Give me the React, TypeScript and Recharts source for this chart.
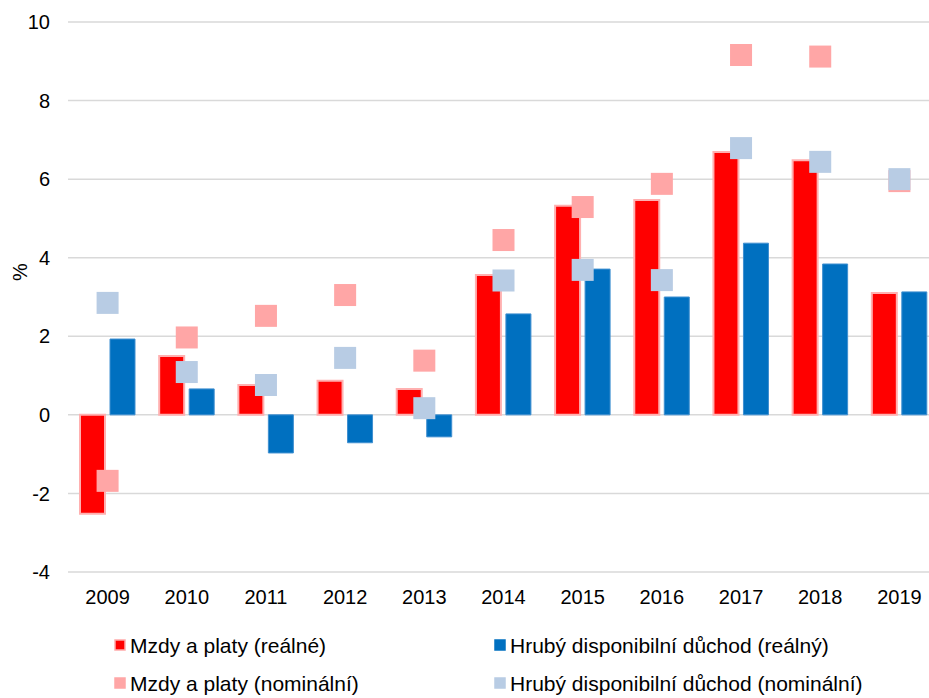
import React from 'react';
import { ComposedChart, Bar, Scatter, XAxis, YAxis, CartesianGrid } from 'recharts';

const years = ['2009', '2010', '2011', '2012', '2013', '2014', '2015', '2016', '2017', '2018', '2019'];
const wagesReal = [-2.52, 1.5, 0.76, 0.87, 0.66, 3.56, 5.32, 5.47, 6.69, 6.48, 3.1];
const incomeReal = [1.93, 0.66, -0.97, -0.71, -0.56, 2.57, 3.71, 3.0, 4.37, 3.84, 3.13];
const wagesNominal = [-1.68, 1.97, 2.52, 3.05, 1.38, 4.45, 5.29, 5.88, 9.16, 9.12, 5.95];
const incomeNominal = [2.85, 1.09, 0.76, 1.45, 0.17, 3.42, 3.69, 3.43, 6.79, 6.44, 6.0];
const yTicks = [-4, -2, 0, 2, 4, 6, 8, 10];

const data = years.map((y, i) => ({
    year: y,
    wagesReal: wagesReal[i],
    incomeReal: incomeReal[i],
    wagesNominal: wagesNominal[i],
    incomeNominal: incomeNominal[i],
}));

const FONT = '"Liberation Sans", Arial, sans-serif';

const legendItems = [
    { label: 'Mzdy a platy (reálné)', fill: '#ff0000', stroke: '#ffaaaa', x: 114, y: 645 },
    { label: 'Hrubý disponibilní důchod (reálný)', fill: '#0070c0', stroke: '#0070c0', x: 494, y: 645 },
    { label: 'Mzdy a platy (nominální)', fill: '#ffa6a6', stroke: '#ffa6a6', x: 114, y: 683 },
    { label: 'Hrubý disponibilní důchod (nominální)', fill: '#b8cce4', stroke: '#b8cce4', x: 494, y: 683 },
];

const squareMarker = (color: string) => (props: any) => {
    const { cx, cy } = props;
    if (cx == null || cy == null) return <g />;
    return <rect x={cx - 11} y={cy - 11} width={22} height={22} fill={color} />;
};

function LegendBox() {
    return (
        <svg width={929} height={698} style={{ position: 'absolute', left: 0, top: 0, pointerEvents: 'none' }}>
            {legendItems.map(it => (
                <g key={it.label}>
                    <rect x={it.x + 1} y={it.y - 5} width={10} height={10} fill={it.fill} stroke={it.stroke} strokeWidth={1.5} />
                    <text x={it.x + 16} y={it.y} dominantBaseline="central" fontSize={21} fill="#000" fontFamily={FONT}>
                        {it.label}
                    </text>
                </g>
            ))}
        </svg>
    );
}

export default function App() {
    return (
        <div style={{ position: 'absolute', left: 0, top: 0, width: 929, height: 698, background: '#fff', overflow: 'hidden' }}>
            <ComposedChart
                width={929}
                height={698}
                data={data}
                margin={{ top: 22, right: -10, left: 0, bottom: 96 }}
                barSize={25}
                barGap={5}
            >
                <CartesianGrid vertical={false} stroke="#d9d9d9" strokeWidth={1.5} />
                <XAxis
                    dataKey="year"
                    height={30}
                    axisLine={false}
                    tickLine={false}
                    tickMargin={12}
                    tick={{ fontSize: 20, fill: '#000', fontFamily: FONT }}
                    interval={0}
                />
                <YAxis
                    width={68}
                    domain={[-4, 10]}
                    ticks={yTicks}
                    axisLine={false}
                    tickLine={false}
                    tickMargin={12}
                    tick={{ fontSize: 20, fill: '#000', fontFamily: FONT }}
                    label={{
                        content: () => (
                            <text x={20} y={272} transform="rotate(-90 20 272)" textAnchor="middle" dominantBaseline="central" fontSize={20} fontFamily={FONT} fill="#000">
                                %
                            </text>
                        ),
                    }}
                />
                <Bar dataKey="wagesReal" fill="#ff0000" stroke="#ffb0b0" strokeWidth={2} isAnimationActive={false} />
                <Bar dataKey="incomeReal" fill="#0070c0" stroke="#3f8fd0" strokeWidth={1} isAnimationActive={false} />
                <Scatter dataKey="wagesNominal" shape={squareMarker('#ffa6a6')} isAnimationActive={false} />
                <Scatter dataKey="incomeNominal" shape={squareMarker('#b8cce4')} isAnimationActive={false} />
            </ComposedChart>
            <LegendBox />
        </div>
    );
}
